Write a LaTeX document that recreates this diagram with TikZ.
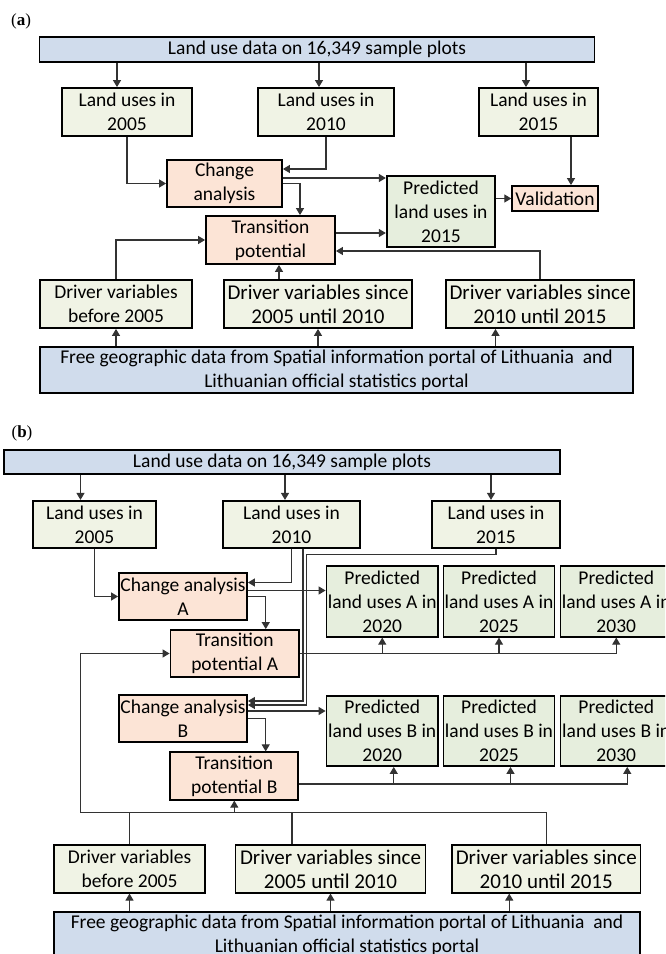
\documentclass[tikz,border=0pt]{standalone}
\usepackage{fontspec}
\setmainfont{Carlito}
\newfontfamily\lblfont{Liberation Serif}
\usetikzlibrary{arrows.meta}
\definecolor{topblue}{HTML}{D0DCEC}
\definecolor{chgorange}{HTML}{FCE4D6}
\definecolor{predgreen}{HTML}{E6EEDD}
\definecolor{usegreen}{HTML}{F0F3E5}
\tikzset{
  box/.style={draw=black, line width=1.8pt, align=center, inner sep=0pt,
    font=\fontsize{19.5}{24}\selectfont},
  sz/.style 2 args={minimum width=#1pt, minimum height=#2pt},
  databox/.style={box, fill=topblue},
  usebox/.style={box, fill=usegreen},
  drvbox/.style={usebox, font=\fontsize{21}{24}\selectfont},
  chgbox/.style={box, fill=chgorange},
  predbox/.style={box, fill=predgreen},
  arr/.style={-{Triangle[length=7pt,width=8pt]}, line width=1.1pt, draw=black!80},
  link/.style={line width=1.1pt, draw=black!80},
  panel/.style={font=\lblfont\fontsize{17}{20}\selectfont}
}

\begin{document}
\begin{tikzpicture}[x=1pt, y=-1pt]
\useasboundingbox (0,0) rectangle (665,954);
\clip (0,0) rectangle (665,954);

% panel (a)
\node[panel] (lbla) at (21,21) {(\textbf{a})};
\node[databox, sz={555}{25}] (top) at (317,49.5) {Land use data on 16,349 sample plots};
\node[usebox, sz={130}{48}] (lu05) at (127,112) {Land uses in\\2005};
\node[usebox, sz={136}{48}] (lu10) at (326,112) {Land uses in\\2010};
\node[usebox, sz={119}{48}] (lu15) at (538.5,112) {Land uses in\\2015};
\node[chgbox, sz={115}{47}] (ca) at (224.5,183.5) {Change\\analysis};
\node[predbox, sz={108.5}{71}] (pred) at (441,211.5) {Predicted\\land uses in\\2015};
\node[chgbox, sz={85.5}{25}] (val) at (555,198.5) {Validation};
\node[chgbox, sz={129}{48}] (tp) at (270.5,240) {Transition\\potential};
\node[usebox, sz={152.5}{48}] (d1) at (116,304) {Driver variables\\before 2005};
\node[drvbox, sz={188.5}{48}] (d2) at (318,304) {Driver variables since\\2005 until 2010};
\node[drvbox, sz={188}{48}] (d3) at (540,304) {Driver variables since\\2010 until 2015};
\node[databox, sz={593}{46}] (src) at (336.5,370) {Free geographic data from Spatial information portal of Lithuania\ \ and\\Lithuanian official statistics portal};

% arrows (a)
\draw[arr] ([xshift=-10pt]lu05.north |- top.south) -- ([xshift=-10pt]lu05.north);
\draw[arr] ([xshift=-7pt]lu10.north |- top.south) -- ([xshift=-7pt]lu10.north);
\draw[arr] ([xshift=-12.5pt]lu15.north |- top.south) -- ([xshift=-12.5pt]lu15.north);
\draw[arr] (lu05.south) |- (ca.west);
\draw[arr] (lu10.south) |- ([yshift=14.5pt]ca.east);
\draw[arr] ([yshift=5.5pt]ca.east) -- ([yshift=5.5pt]ca.east -| pred.west);
\draw[arr] (ca.east) -| ([xshift=29.5pt]tp.north);
\draw[arr] ([xshift=16pt]val.north |- lu15.south) -- ([xshift=16pt]val.north);
\draw[arr] (pred.east |- val.west) -- (val.west);
\draw[arr] ([yshift=7pt]tp.east) -- ([yshift=7pt]tp.east -| pred.west);
\draw[arr] (d3.north) |- ([yshift=-11pt]tp.east);
\draw[arr] (d1.north) |- (tp.west);
\draw[arr] ([xshift=8.5pt]tp.south |- d2.north) -- ([xshift=8.5pt]tp.south);
\draw[arr] (d1.south |- src.north) -- (d1.south);
\draw[arr] (d2.south |- src.north) -- (d2.south);
\draw[arr] ([xshift=-44.5pt]d3.south |- src.north) -- ([xshift=-44.5pt]d3.south);

% panel (b)
\node[panel] (lblb) at (22,433) {(\textbf{b})};
\node[databox, sz={556}{24}] (topb) at (282,462) {Land use data on 16,349 sample plots};
\node[usebox, sz={123}{47}] (lub05) at (94.5,524.3) {Land uses in\\2005};
\node[usebox, sz={137}{47}] (lub10) at (291.5,524.3) {Land uses in\\2010};
\node[usebox, sz={128}{47}] (lub15) at (496,524.3) {Land uses in\\2015};
\node[chgbox, sz={128}{47}] (caA) at (183,596.5) {Change analysis\\A};
\node[chgbox, sz={128.5}{47}] (tpA) at (234.75,653.5) {Transition\\potential A};
\node[predbox, sz={111.5}{70.7}] (pA20) at (382.25,601.35) {Predicted\\land uses A in\\2020};
\node[predbox, sz={111}{70.7}] (pA25) at (499,601.35) {Predicted\\land uses A in\\2025};
\node[predbox, sz={111.5}{70.7}] (pA30) at (616.25,601.35) {Predicted\\land uses A in\\2030};
\node[chgbox, sz={128}{47}] (caB) at (183,718.5) {Change analysis\\B};
\node[chgbox, sz={128}{47.4}] (tpB) at (234.3,776) {Transition\\potential B};
\node[predbox, sz={111.5}{70}] (pB20) at (382.25,731) {Predicted\\land uses B in\\2020};
\node[predbox, sz={111}{70}] (pB25) at (499,731) {Predicted\\land uses B in\\2025};
\node[predbox, sz={111.5}{70}] (pB30) at (616.25,731) {Predicted\\land uses B in\\2030};
\node[usebox, sz={151}{47.7}] (db1) at (129.5,868.8) {Driver variables\\before 2005};
\node[drvbox, sz={190}{47.7}] (db2) at (330.5,868.8) {Driver variables since\\2005 until 2010};
\node[drvbox, sz={188.5}{47.7}] (db3) at (546.25,868.8) {Driver variables since\\2010 until 2015};
\node[databox, sz={586}{46}] (srcb) at (347,935) {Free geographic data from Spatial information portal of Lithuania\ \ and\\Lithuanian official statistics portal};

% arrows (b)
\draw[arr] ([xshift=-14pt]lub05.north |- topb.south) -- ([xshift=-14pt]lub05.north);
\draw[arr] ([xshift=-6.5pt]lub10.north |- topb.south) -- ([xshift=-6.5pt]lub10.north);
\draw[arr] ([xshift=-5pt]lub15.north |- topb.south) -- ([xshift=-5pt]lub15.north);
\draw[arr] (lub05.south) |- (caA.west);
\draw[arr] (lub10.south) |- ([yshift=14pt]caA.east);
\draw[arr] ([xshift=11.5pt]lub10.south) |- ([yshift=17.5pt]caB.east);
\draw[arr] (lub15.south) |- ([xshift=15.2pt,yshift=-6pt]lub10.south) |- ([yshift=13.5pt]caB.east);
\draw[arr] ([yshift=6pt]caA.east) -- ([yshift=6pt]caA.east -| pA20.west);
\draw[arr] (caA.east) -| ([xshift=31pt]tpA.north);
\draw[arr] ([yshift=7.5pt]caB.east) -- ([yshift=7.5pt]caB.east -| pB20.west);
\draw[arr] (caB.east) -| ([xshift=31.4pt]tpB.north);
\draw[arr] (tpA.east) -| (pA30.south);
\foreach \p in {pA20,pA25}
  \draw[arr] (\p.south |- tpA.east) -- (\p.south);
\coordinate (tb) at ([yshift=-8pt]tpB.east);
\draw[arr] (tb) -| ([xshift=11pt]pB30.south);
\foreach \p in {pB20,pB25}
  \draw[arr] ([xshift=11.5pt]\p.south |- tb) -- ([xshift=11.5pt]\p.south);
% drivers to both transition boxes
\coordinate (bus) at ([xshift=-49pt,yshift=32pt]db1.north);
\draw[arr] (db3.north) |- (bus) |- (tpA.west);
\draw[link] (db1.north) -- (db1.north |- bus);
\draw[link] ([xshift=-38.5pt]db2.north) -- ([xshift=-38.5pt]db2.north |- bus);
\draw[arr] (tpB.south |- bus) -- (tpB.south);
\draw[arr] (db1.south |- srcb.north) -- (db1.south);
\draw[arr] (db2.south |- srcb.north) -- (db2.south);
\draw[arr] ([xshift=-37pt]db3.south |- srcb.north) -- ([xshift=-37pt]db3.south);
\end{tikzpicture}
\end{document}
